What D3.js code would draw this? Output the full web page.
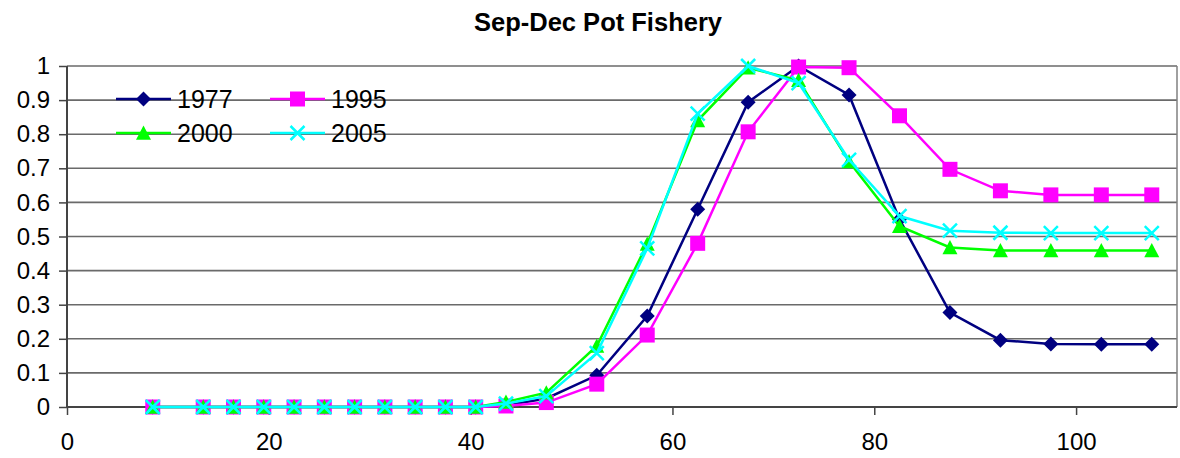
<!DOCTYPE html>
<html><head><meta charset="utf-8">
<script src="https://cdn.jsdelivr.net/npm/d3@7"></script>
<style>body{margin:0;background:#fff}svg{display:block}text{font-family:Arial,"Liberation Sans",sans-serif}</style>
</head><body>
<svg id="c" width="1180" height="458"></svg>
<script>
const title = "Sep-Dec Pot Fishery";
const lengths = [8.5,13.5,16.5,19.5,22.5,25.5,28.5,31.5,34.5,37.5,40.5,43.5,47.5,52.5,57.5,62.5,67.5,72.5,77.5,82.5,87.5,92.5,97.5,102.5,107.5];
const s1977 = [0,0,0,0,0,0,0,0,0,0,0,0.005,0.025,0.093,0.267,0.58,0.894,1.0,0.915,0.55,0.277,0.196,0.185,0.184,0.184];
const s1995 = [0,0,0,0,0,0,0,0,0,0,0,0.003,0.013,0.067,0.211,0.48,0.807,0.997,0.995,0.854,0.697,0.634,0.622,0.622,0.622];
const s2000 = [0,0,0,0,0,0,0,0,0,0,0,0.015,0.042,0.179,0.478,0.84,0.995,0.958,0.72,0.53,0.468,0.459,0.459,0.459,0.459];
const s2005 = [0,0,0,0,0,0,0,0,0,0,0,0.01,0.032,0.158,0.465,0.86,1.0,0.95,0.725,0.56,0.517,0.511,0.51,0.51,0.51];
const seriesNames = ["1977","1995","2000","2005"];
const xTicks = [0,20,40,60,80,100];
const yTicks = [0,0.1,0.2,0.3,0.4,0.5,0.6,0.7,0.8,0.9,1];

const series = [
  {name:seriesNames[0], values:s1977, color:"#000080", marker:"diamond"},
  {name:seriesNames[1], values:s1995, color:"#FF00FF", marker:"square"},
  {name:seriesNames[2], values:s2000, color:"#00FF00", marker:"triangle"},
  {name:seriesNames[3], values:s2005, color:"#00FFFF", marker:"x"}
];

const svg = d3.select("#c");
const L=67, R=1177, T=66, B=407;
const x = d3.scaleLinear().domain([0,110]).range([L,R]);
const y = d3.scaleLinear().domain([0,1]).range([B,T]);

svg.append("text").attr("x",598).attr("y",31).attr("text-anchor","middle")
  .attr("font-weight","bold").attr("font-size",25.5).text(title);

// gridlines
svg.append("g").selectAll("line").data(yTicks.slice(1)).join("line")
  .attr("x1",L).attr("x2",R).attr("y1",d=>y(d)).attr("y2",d=>y(d))
  .attr("stroke","#6a6a6a").attr("stroke-width",1.6);
// right border
svg.append("line").attr("x1",R).attr("x2",R).attr("y1",T).attr("y2",B).attr("stroke","#808080").attr("stroke-width",1.5);

// axes
const yAxis = d3.axisLeft(y).tickValues(yTicks).tickSize(8).tickPadding(9).tickFormat(d=>d===0?"0":(d===1?"1":d3.format(".1f")(d)));
const gy = svg.append("g").attr("transform",`translate(${L},0)`).call(yAxis);
const xAxis = d3.axisBottom(x).tickValues(xTicks).tickSize(8).tickPadding(18);
const gx = svg.append("g").attr("transform",`translate(0,${B})`).call(xAxis);
[gx,gy].forEach(g=>{
  g.select(".domain").attr("stroke","#444").attr("stroke-width",2);
  g.selectAll(".tick line").attr("stroke","#444").attr("stroke-width",1.5);
  g.selectAll(".tick text").attr("font-size",24).attr("fill","#000").style("font-family","Arial, 'Liberation Sans', sans-serif");
});
gy.select(".domain").attr("d",`M0,${B}V${T}`);
gx.select(".domain").attr("d",`M${L},0H${R}`);

const markerPath = {
  diamond: h=>`M0,${-h}L${h},0L0,${h}L${-h},0Z`,
  square: h=>`M${-h},${-h}H${h}V${h}H${-h}Z`,
  triangle: h=>`M0,${-h}L${h},${h*0.9}H${-h}Z`,
  x: h=>`M${-h},${-h}L${h},${h}M${h},${-h}L${-h},${h}`
};
const markerHalf = {diamond:7.5, square:7.5, triangle:7.5, x:7};
function drawMarker(g, s, cx, cy){
  const p = g.append("path").attr("d", markerPath[s.marker](markerHalf[s.marker])).attr("transform",`translate(${cx},${cy})`);
  if(s.marker==="x"){ p.attr("fill","none").attr("stroke",s.color).attr("stroke-width",2.5); }
  else { p.attr("fill",s.color).attr("stroke","none"); }
}

const line = d3.line().x((d,i)=>x(lengths[i])).y(d=>y(d));
series.forEach(s=>{
  const g = svg.append("g");
  g.append("path").datum(s.values).attr("d",line).attr("fill","none")
    .attr("stroke",s.color).attr("stroke-width",2.5);
  s.values.forEach((v,i)=>drawMarker(g,s,x(lengths[i]),y(v)));
});

// legend
const legPos = [[116,99],[270,99],[116,133],[270,133]];
series.forEach((s,i)=>{
  const [lx,ly] = legPos[i];
  const g = svg.append("g");
  g.append("line").attr("x1",lx).attr("x2",lx+55).attr("y1",ly).attr("y2",ly).attr("stroke",s.color).attr("stroke-width",2.5);
  drawMarker(g,s,lx+27.5,ly);
  g.append("text").attr("x",lx+61).attr("y",ly+9).attr("font-size",25).text(s.name);
});
</script>
</body></html>
